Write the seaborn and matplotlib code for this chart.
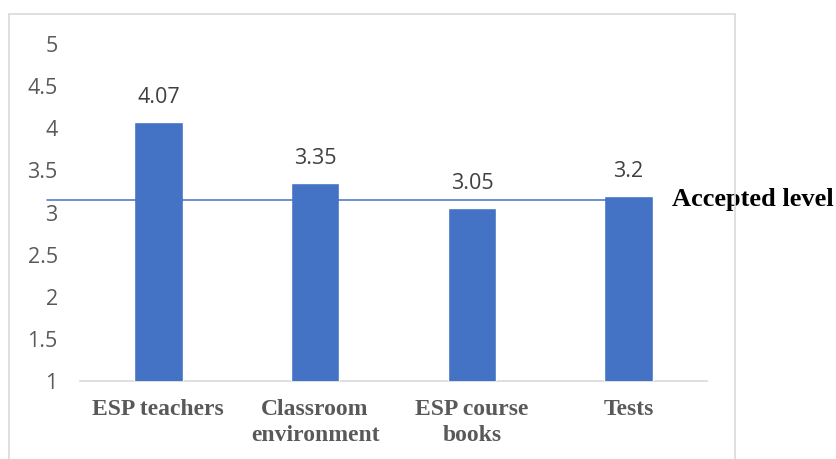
import matplotlib
matplotlib.use("Agg")
import matplotlib.pyplot as plt
import seaborn as sns
import pandas as pd
from matplotlib.patches import Rectangle

categories = ["ESP teachers", "Classroom\nenvironment", "ESP course\nbooks", "Tests"]
values = [4.07, 3.35, 3.05, 3.2]
value_labels = ["4.07", "3.35", "3.05", "3.2"]
y_ticks = [1, 1.5, 2, 2.5, 3, 3.5, 4, 4.5, 5]
y_tick_labels = ["1", "1.5", "2", "2.5", "3", "3.5", "4", "4.5", "5"]
accepted_level = 3.15
accepted_label = "Accepted level"

sns.set_theme(style="white")
plt.rcParams['font.family'] = ['Open Sans', 'DejaVu Sans']

df = pd.DataFrame({"category": categories, "value": values})

fig = plt.figure(figsize=(8.36, 4.59), dpi=100)
ax = fig.add_axes([80/836, 1-381/459, 627/836, 337/459])

# outer chart frame
fig.patches.append(Rectangle((9/836, -0.05), (735-9)/836, 1.05-14/459,
                             transform=fig.transFigure, fill=False,
                             edgecolor="#D9D9D9", linewidth=1.2, zorder=0))

sns.barplot(data=df, x="category", y="value", color="#4472C4",
            width=0.31, saturation=1, ax=ax, zorder=3)

ax.set_ylim(1, 5)
ax.set_xlim(-0.5, 3.5)
ax.set_yticks(y_ticks)
ax.set_yticklabels(y_tick_labels, fontsize=15.5, color="#595959")
ax.set_xticks(range(len(categories)))
ax.set_xticklabels(categories, fontsize=17, fontweight="bold", color="#595959",
                   family="Liberation Serif", linespacing=1.3)
ax.tick_params(axis="both", length=0)
ax.tick_params(axis="y", pad=16)
ax.tick_params(axis="x", pad=13)
ax.set_xlabel("")
ax.set_ylabel("")
for s in ["top", "right", "left"]:
    ax.spines[s].set_visible(False)
ax.spines["bottom"].set_color("#D9D9D9")
ax.spines["bottom"].set_linewidth(1.2)

for i, (v, lab) in enumerate(zip(values, value_labels)):
    ax.annotate(lab, (i, v), xytext=(0, 10), textcoords="offset points",
                ha="center", va="bottom", fontsize=15.5, color="#404040")

ax.plot([-0.71, 3.136], [accepted_level, accepted_level], color="#4472C4",
        linewidth=1.1, clip_on=False, zorder=4)
ax.text(3.277, accepted_level, accepted_label, ha="left", va="center",
        fontsize=19, fontweight="bold", family="Liberation Serif", color="black",
        clip_on=False, zorder=5,
        bbox=dict(facecolor="white", edgecolor="none", pad=2))

fig.savefig("out.png", dpi=100)
